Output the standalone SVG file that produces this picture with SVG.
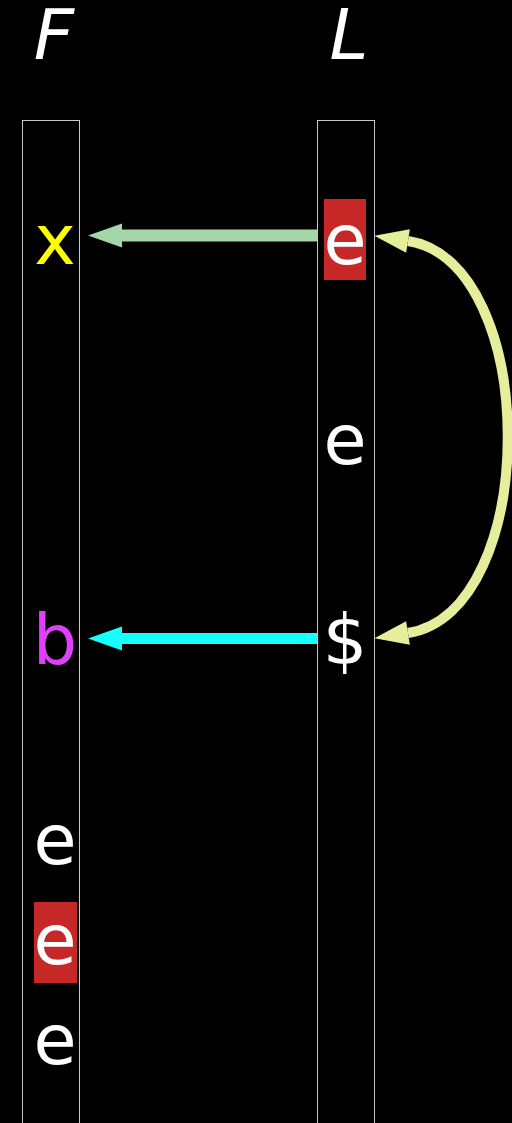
<svg xmlns="http://www.w3.org/2000/svg" width="512" height="1123" viewBox="0 0 512 1123">
<style>
.col{fill:none;stroke:#c8c8c8;stroke-width:1}
.hdr{font-family:"DejaVu Sans",sans-serif;font-style:italic;font-weight:200;font-size:70px;fill:#ffffff;text-anchor:middle}
.sym{font-family:"DejaVu Sans",sans-serif;font-size:70px;text-anchor:middle;fill:#ffffff}
.hl{fill:#c62828}
</style>
<defs>
<marker id="hGreen" markerUnits="userSpaceOnUse" markerWidth="34" markerHeight="24" refX="0" refY="12" orient="auto" overflow="visible"><path d="M0,0 L34,12 L0,24 Z" fill="#a5d6a7"/></marker>
<marker id="hCyan" markerUnits="userSpaceOnUse" markerWidth="34" markerHeight="24" refX="0" refY="12" orient="auto" overflow="visible"><path d="M0,0 L34,12 L0,24 Z" fill="#18ffff"/></marker>
<marker id="hLime" markerUnits="userSpaceOnUse" markerWidth="34" markerHeight="24" refX="0" refY="12" orient="auto-start-reverse" overflow="visible"><path d="M0,0 L34,12 L0,24 Z" fill="#e6ee9c"/></marker>
</defs>
<rect width="512" height="1123" fill="#000000"/>
<g id="header-F"><text class="hdr" x="54" y="59">F</text></g>
<g id="header-L"><text class="hdr" x="349" y="59">L</text></g>
<g id="column-F"><rect class="col" x="22.5" y="120.5" width="57" height="1010"/></g>
<g id="column-L"><rect class="col" x="317.5" y="120.5" width="57" height="1010"/></g>
<g id="F-x"><text class="sym" x="55" y="264" style="fill:#ffff00">x</text></g>
<g id="F-b"><text class="sym" x="55" y="664" style="fill:#e040fb">b</text></g>
<g id="F-e1"><text class="sym" x="55" y="864">e</text></g>
<g id="F-e2"><rect class="hl" x="34" y="902" width="43" height="81"/><text class="sym" x="55" y="964">e</text></g>
<g id="F-e3"><text class="sym" x="55" y="1064">e</text></g>
<g id="L-e1"><rect class="hl" x="324" y="199" width="42" height="81"/><text class="sym" x="345" y="264">e</text></g>
<g id="L-e2"><text class="sym" x="345" y="464">e</text></g>
<g id="L-dollar"><text class="sym" x="345" y="664">$</text></g>
<g id="connectors" fill="none">
<path d="M317,235.5 L122,235.5" stroke="#a5d6a7" stroke-width="12" marker-end="url(#hGreen)"/>
<path d="M317,638.5 L122,638.5" stroke="#18ffff" stroke-width="11" marker-end="url(#hCyan)"/>
<path d="M408,241 C541,262 541,612 408,633" stroke="#e6ee9c" stroke-width="10" marker-start="url(#hLime)" marker-end="url(#hLime)"/>
</g>
</svg>
